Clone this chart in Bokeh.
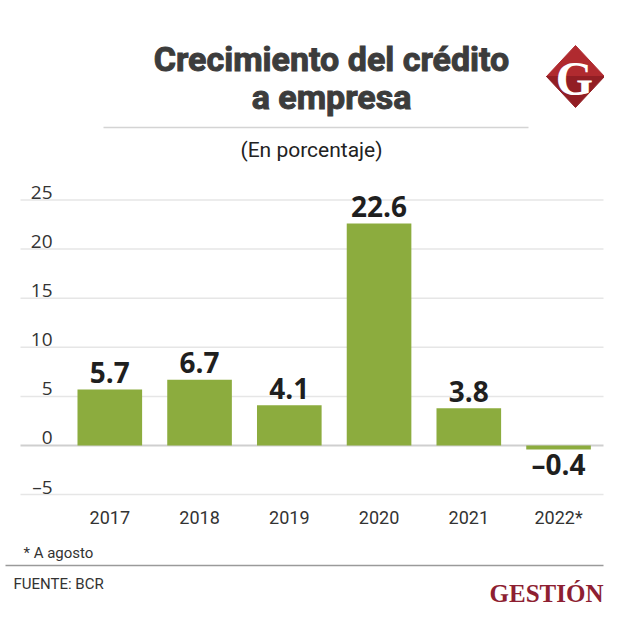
from bokeh.plotting import figure
from bokeh.models import Range1d
from bokeh.core.properties import value
from bokeh.embed import file_html
from bokeh.resources import INLINE

# ---------------- data ----------------
years = ["2017", "2018", "2019", "2020", "2021", "2022*"]
growth = [5.7, 6.7, 4.1, 22.6, 3.8, -0.4]
y_ticks = [-5, 0, 5, 10, 15, 20, 25]
y_tick_labels = ["\u20135", "0", "5", "10", "15", "20", "25"]

title_lines = ["Crecimiento del cr\u00e9dito", "a empresa"]
subtitle = "(En porcentaje)"
note = "* A agosto"
source_txt = "FUENTE: BCR"
brand = "GESTI\u00d3N"

# ---------------- geometry ----------------
W, H = 604, 617
ZERO_Y = 445.0             # canvas y of value 0
PX_PER_UNIT = 9.82
BAR0_X = 109.3             # canvas x of first bar centre
BAR_STEP = 89.75

BAR_COLOR = "#8cac3e"
TXT_DARK = "#1f1f1f"
TXT_MID = "#333333"

p = figure(
    width=W, height=H, output_backend="svg", toolbar_location=None,
    x_range=Range1d((0 - BAR0_X) / BAR_STEP, (W - BAR0_X) / BAR_STEP),
    y_range=Range1d((ZERO_Y - H) / PX_PER_UNIT, (ZERO_Y - 0) / PX_PER_UNIT),
    x_axis_location=None, y_axis_location=None, min_border=0,
    outline_line_color=None,
)
p.extra_x_ranges = {"px": Range1d(0, W)}
p.extra_y_ranges = {"px": Range1d(H, 0)}
p.grid.visible = False
p.background_fill_color = "white"
p.border_fill_color = "white"

idx = list(range(len(years)))

# ---------------- gridlines ----------------
grid_colors = ["#cfcfcf" if t == 0 else "#e6e6e6" for t in y_ticks]
grid_widths = [2.0 if t == 0 else 1.5 for t in y_ticks]
p.segment(x0=[20] * len(y_ticks), x1=[603] * len(y_ticks), y0=y_ticks, y1=y_ticks,
          x_range_name="px", line_color=grid_colors, line_width=grid_widths)

# y tick labels (sit just above their gridline)
p.text(x=[52] * len(y_ticks), y=y_ticks, text=y_tick_labels, x_range_name="px",
       text_align="right", text_baseline="middle", y_offset=-8,
       text_font=value("Open Sans"), text_font_size="19px", text_color=TXT_MID)

# ---------------- bars ----------------
p.vbar(x=idx, top=growth, bottom=0, width=0.72, fill_color=BAR_COLOR, line_color=None)

pos = [i for i in idx if growth[i] >= 0]
neg = [i for i in idx if growth[i] < 0]
p.text(x=pos, y=[growth[i] for i in pos], text=[f"{growth[i]:.1f}" for i in pos],
       text_align="center", text_baseline="middle", y_offset=-17,
       text_font=value("Open Sans"), text_font_style="bold", text_font_size="28px",
       text_color=TXT_DARK)
p.text(x=neg, y=[growth[i] for i in neg], text=[f"\u2013{abs(growth[i]):.1f}" for i in neg],
       text_align="center", text_baseline="middle", y_offset=15,
       text_font=value("Open Sans"), text_font_style="bold", text_font_size="28px",
       text_color=TXT_DARK)

# year labels
p.text(x=idx, y=[517] * len(idx), text=years, y_range_name="px",
       text_align="center", text_baseline="middle",
       text_font=value("Roboto"), text_font_size="18px", text_color=TXT_MID)

# ---------------- header ----------------
p.text(x=[331, 331], y=[58, 96], text=title_lines, x_range_name="px", y_range_name="px",
       text_align="center", text_baseline="middle",
       text_font=value("Roboto"), text_font_style="bold", text_font_size="34px",
       text_color="#3c3c3c", text_outline_color="#3c3c3c")
p.segment(x0=[103], x1=[528], y0=[127], y1=[127], x_range_name="px", y_range_name="px",
          line_color="#d4d4d4", line_width=1.5)
p.text(x=[311], y=[149], text=[subtitle], x_range_name="px", y_range_name="px",
       text_align="center", text_baseline="middle",
       text_font=value("Roboto"), text_font_size="21px", text_color="#222222")

# G logo (diamond)
p.patch(x=[546, 575, 604], y=[76, 45, 76], x_range_name="px", y_range_name="px",
        fill_color="#b02a2f", line_color="#b02a2f", line_width=1)
p.patch(x=[546, 604, 575], y=[76, 76, 107], x_range_name="px", y_range_name="px",
        fill_color="#921e24", line_color="#921e24", line_width=1)
p.text(x=[574], y=[78], text=["G"], x_range_name="px", y_range_name="px",
       text_align="center", text_baseline="middle",
       text_font=value("Liberation Serif"), text_font_style="bold", text_font_size="48px",
       text_color="white")

# ---------------- footer ----------------
p.text(x=[23], y=[552], text=[note], x_range_name="px", y_range_name="px",
       text_align="left", text_baseline="middle",
       text_font=value("Roboto"), text_font_size="15px", text_color=TXT_MID)
p.segment(x0=[5], x1=[603], y0=[565], y1=[565], x_range_name="px", y_range_name="px",
          line_color="#9a9a9a", line_width=1.5)
p.text(x=[13], y=[583], text=[source_txt], x_range_name="px", y_range_name="px",
       text_align="left", text_baseline="middle",
       text_font=value("Roboto"), text_font_size="15px", text_color=TXT_MID)
p.text(x=[603], y=[593], text=[brand], x_range_name="px", y_range_name="px",
       text_align="right", text_baseline="middle",
       text_font=value("Liberation Serif"), text_font_style="bold", text_font_size="25px",
       text_color="#8e1f32")

open("out.html", "w").write(file_html(p, INLINE))
